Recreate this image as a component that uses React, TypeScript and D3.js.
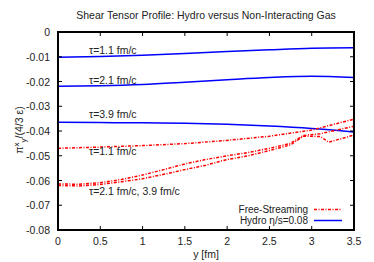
import React, { useRef, useEffect } from "react"
import * as d3 from "d3"

// x positions (fm) and series values
const hydroX = [0, 0.5, 1, 1.5, 2, 2.5, 3, 3.5]
const hydro11 = [-0.0102, -0.0099, -0.0094, -0.0087, -0.0079, -0.0072, -0.0066, -0.0064]
const hydro21 = [-0.0219, -0.0217, -0.0212, -0.0203, -0.0193, -0.0184, -0.0179, -0.0184]
const hydro39 = [-0.0365, -0.0366, -0.0367, -0.0369, -0.0373, -0.0380, -0.0390, -0.0404]

const fs11X = [0, 0.5, 1, 1.5, 2, 2.5, 3, 3.5]
const fs11 = [-0.0470, -0.0465, -0.0459, -0.0451, -0.0438, -0.0421, -0.0396, -0.0352]

const fs21X = [0, 0.25, 0.5, 0.75, 1, 1.25, 1.5, 1.75, 2, 2.25, 2.5, 2.75, 2.9, 3.1, 3.3, 3.5]
const fs21 = [-0.0614, -0.0615, -0.0609, -0.0596, -0.0578, -0.0556, -0.0533, -0.0515, -0.0500, -0.0487, -0.0470, -0.0450, -0.0418, -0.0411, -0.0396, -0.0381]
const fs39X = [0, 0.25, 0.5, 0.75, 1, 1.25, 1.5, 1.75, 2, 2.25, 2.5, 2.75, 2.9, 3.1, 3.2, 3.35, 3.5]
const fs39 = [-0.0620, -0.0622, -0.0616, -0.0605, -0.0593, -0.0575, -0.0556, -0.0538, -0.0515, -0.0500, -0.0479, -0.0456, -0.0421, -0.0422, -0.0445, -0.0431, -0.0416]

const xTicks = [0, 0.5, 1, 1.5, 2, 2.5, 3, 3.5]
const yTicks = [0, -0.01, -0.02, -0.03, -0.04, -0.05, -0.06, -0.07, -0.08]

const W = 374, H = 262
const FONT = "Liberation Sans, Arial, sans-serif"
const DASH = "3,1.5,1,1.5"

export default function App() {
  const ref = useRef<SVGSVGElement>(null)

  useEffect(() => {
    const svg = d3.select(ref.current)
    svg.selectAll("*").remove()
    const left = 58, right = 354, top = 32, bottom = 230
    const x = d3.scaleLinear().domain([0, 3.5]).range([left, right])
    const y = d3.scaleLinear().domain([-0.08, 0]).range([bottom, top])

    const g = svg.append("g")
    const line = (xs: number[], ys: number[], curve: any) =>
      d3.line<number>().x((_, i) => x(xs[i])).y(d => y(d)).curve(curve)(ys)

    // hydro curves
    ;[hydro11, hydro21, hydro39].forEach(s => {
      g.append("path").attr("d", line(hydroX, s, d3.curveMonotoneX))
        .attr("fill", "none").attr("stroke", "#0000ff").attr("stroke-width", 1.5)
    })
    // free streaming curves
    const fsSeries: [number[], number[]][] = [[fs11X, fs11], [fs21X, fs21], [fs39X, fs39]]
    fsSeries.forEach(([xs, s]) => {
      g.append("path").attr("d", line(xs, s, d3.curveLinear))
        .attr("fill", "none").attr("stroke", "#ff0000").attr("stroke-width", 1.5)
        .attr("stroke-dasharray", DASH)
    })

    // ticks, inward on all sides
    const ax = svg.append("g").attr("stroke", "#000").attr("stroke-width", 1)
    xTicks.forEach(t => {
      ax.append("line").attr("x1", x(t)).attr("x2", x(t)).attr("y1", bottom).attr("y2", bottom - 4)
      ax.append("line").attr("x1", x(t)).attr("x2", x(t)).attr("y1", top).attr("y2", top + 4)
    })
    yTicks.forEach(t => {
      ax.append("line").attr("x1", left).attr("x2", left + 4).attr("y1", y(t)).attr("y2", y(t))
      ax.append("line").attr("x1", right).attr("x2", right - 4).attr("y1", y(t)).attr("y2", y(t))
    })
    svg.append("rect").attr("x", left).attr("y", top).attr("width", right - left).attr("height", bottom - top)
      .attr("fill", "none").attr("stroke", "#000").attr("stroke-width", 2)

    const txt = svg.append("g").attr("font-family", FONT).attr("font-size", 10.5).attr("fill", "#222")
    xTicks.forEach(t => {
      txt.append("text").attr("x", x(t)).attr("y", 245).attr("text-anchor", "middle").text(String(t))
    })
    yTicks.forEach(t => {
      txt.append("text").attr("x", 50).attr("y", y(t) + 4).attr("text-anchor", "end").text(t === 0 ? "0" : t.toFixed(2))
    })
    txt.append("text").attr("x", 206).attr("y", 258).attr("text-anchor", "middle").text("y [fm]")
    txt.append("text").attr("x", 206).attr("y", 19).attr("text-anchor", "middle")
      .text("Shear Tensor Profile: Hydro versus Non-Interacting Gas")

    const yl = txt.append("text").attr("transform", "translate(23,130) rotate(-90)").attr("text-anchor", "middle")
    yl.append("tspan").text("π")
    yl.append("tspan").attr("dy", -4).attr("font-size", 8).text("x")
    yl.append("tspan").attr("dy", 7).attr("font-size", 8).text("y")
    yl.append("tspan").attr("dy", -3).text("/(4/3 ε)")

    // curve annotations
    const notes: [number, string][] = [[54, "τ=1.1 fm/c"], [84, "τ=2.1 fm/c"], [118, "τ=3.9 fm/c"], [155, "τ=1.1 fm/c"], [195, "τ=2.1 fm/c, 3.9 fm/c"]]
    notes.forEach(([py, s]) => txt.append("text").attr("x", 89).attr("y", py).text(s))

    // legend
    const lg = svg.append("g").attr("font-family", FONT).attr("font-size", 10).attr("fill", "#222")
    lg.append("text").attr("x", 308).attr("y", 213).attr("text-anchor", "end").text("Free-Streaming")
    lg.append("text").attr("x", 308).attr("y", 224).attr("text-anchor", "end").text("Hydro η/s=0.08")
    svg.append("line").attr("x1", 314).attr("x2", 342).attr("y1", 209.5).attr("y2", 209.5)
      .attr("stroke", "#ff0000").attr("stroke-width", 1.5).attr("stroke-dasharray", DASH)
    svg.append("line").attr("x1", 314).attr("x2", 342).attr("y1", 220.5).attr("y2", 220.5)
      .attr("stroke", "#0000ff").attr("stroke-width", 1.5)
  }, [])

  return (
    <svg ref={ref} width={W} height={H} style={{ position: "absolute", left: 0, top: 0, background: "#fff" }} />
  )
}
